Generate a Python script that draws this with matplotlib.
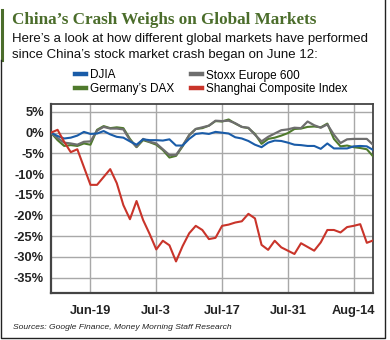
import numpy as np
import pandas as pd
import matplotlib
matplotlib.use("Agg")
import matplotlib.pyplot as plt
from matplotlib.lines import Line2D

# trading days (weekdays) from Jun 11 to Aug 19, 2015, % change since start
dates = pd.bdate_range("2015-06-11", "2015-08-19")
tick_dates = ["2015-06-19", "2015-07-03", "2015-07-17", "2015-07-31", "2015-08-14"]
tick_labels = ["Jun-19", "Jul-3", "Jul-17", "Jul-31", "Aug-14"]
y_ticks = [5, 0, -5, -10, -15, -20, -25, -30, -35]

djia = [0, -0.8, -1.4, -1.2, -0.7, 0.2, -0.3, -0.2, 0.4, -0.4,
        -1.0, -1.2, -2.1, -2.9, -1.6, -1.8, -1.8, -1.9, -1.6, -3.1,
        -3.1, -1.5, -0.3, -0.1, -0.3, 0.2, 0.0, -0.2, -1.1, -1.4,
        -2.0, -2.9, -3.5, -2.4, -1.9, -2.0, -2.4, -2.9, -3.0, -3.2,
        -3.2, -3.9, -2.6, -3.8, -3.8, -3.8, -3.3, -3.2, -3.3, -4.2]
stoxx = [0, -1.3, -2.4, -2.6, -2.9, -2.2, -2.1, 0.5, 1.4, 1.0,
         1.0, 0.8, -1.8, -3.4, -1.5, -2.2, -2.6, -4.0, -5.4, -5.4,
         -3.1, -0.6, 0.9, 1.3, 1.7, 2.9, 2.8, 2.9, 2.3, 1.4,
         1.2, -0.5, -2.1, -1.0, -0.2, 0.6, 0.8, 1.2, 1.1, 2.7,
         1.8, 1.2, 2.0, -0.5, -2.5, -1.6, -1.5, -1.5, -1.5, -3.0]
dax = [0, -1.8, -3.2, -3.0, -3.2, -2.6, -2.9, 0.7, 1.6, 1.1,
       1.3, 1.1, -1.5, -3.5, -1.8, -2.3, -2.9, -4.2, -6.0, -5.6,
       -3.3, -0.6, 0.9, 1.1, 1.7, 2.8, 2.7, 3.2, 2.2, 1.4,
       1.1, -0.3, -2.7, -1.5, -1.2, -0.7, -0.1, 0.9, 1.0, 1.4,
       1.5, 1.3, 2.2, -1.5, -3.3, -3.1, -3.5, -3.7, -4.0, -5.8]
shanghai = [0, 0.7, -2.2, -4.7, -4.0, -8.3, -12.6, -12.6, -10.7, -8.8,
            -12.2, -17.5, -20.9, -16.5, -21.1, -24.5, -28.2, -26.1, -27.2, -31.1,
            -27.4, -24.3, -22.5, -23.5, -25.7, -25.4, -22.5, -22.2, -21.7, -21.4,
            -19.6, -20.7, -27.1, -28.3, -26.1, -27.7, -28.5, -29.3, -26.7, -27.6,
            -28.5, -26.5, -23.5, -23.5, -24.1, -22.8, -22.5, -22.1, -26.6, -26.0]

W, H = 390, 340
def fx(x):
    return x / W
def fy(y):
    return 1 - y / H

fig = plt.figure(figsize=(W / 100, H / 100), dpi=100)
ax = fig.add_axes([fx(51), fy(292.7), (373.4 - 51) / W, (292.7 - 104.3) / H])

x = np.arange(len(dates))
l_dax, = ax.plot(x, dax, color="#4f7a2c", lw=1.5, zorder=3)
l_stoxx, = ax.plot(x, stoxx, color="#6e6e6e", lw=1.6, zorder=4)
l_djia, = ax.plot(x, djia, color="#1a5ca8", lw=1.5, zorder=5)
l_sh, = ax.plot(x, shanghai, color="#c9342a", lw=1.5, zorder=6)

ax.set_xlim(0, len(dates) - 1)
ax.set_ylim(-38.65, 6.86)
ax.set_xticks([dates.get_loc(pd.Timestamp(d)) for d in tick_dates])
ax.set_xticklabels(tick_labels)
ax.set_yticks(y_ticks)
ax.set_yticklabels([f"{v}%" for v in y_ticks])
ax.tick_params(length=0, labelsize=9.3, colors="#222222")
ax.tick_params(axis="x", pad=9)
ax.tick_params(axis="y", pad=5)
for lab in ax.get_xticklabels() + ax.get_yticklabels():
    lab.set_fontfamily("Liberation Sans")
    lab.set_fontweight("bold")
ax.grid(True, color="#a8a8a8", lw=1.0)
ax.set_axisbelow(True)
for s in ax.spines.values():
    s.set_color("#444444")
    s.set_linewidth(1.3)
ax.spines["left"].set_linewidth(1.6)
ax.spines["bottom"].set_linewidth(1.6)

leg = ax.legend([l_djia, l_dax, l_stoxx, l_sh],
                ["DJIA", "Germany\u2019s DAX", "Stoxx Europe 600", "Shanghai Composite Index"],
                ncol=2, loc="upper left", bbox_to_anchor=(fx(75), fy(69.5)),
                bbox_transform=fig.transFigure, frameon=False, borderpad=0,
                borderaxespad=0, handlelength=0.95, handletextpad=0.35,
                columnspacing=1.35, labelspacing=0.1,
                prop={"family": "Liberation Sans", "size": 8.5})
for ln in leg.get_lines():
    ln.set_linewidth(3.2)

green = "#4b6d2b"
fig.text(fx(12), fy(24.5), "China\u2019s Crash Weighs on Global Markets",
         fontfamily="Liberation Serif", fontweight="bold", fontsize=12.3,
         color=green, va="baseline")
fig.text(fx(12), fy(41.7), "Here\u2019s a look at how different global markets have performed",
         fontfamily="Liberation Sans", fontsize=9.5, color="#111111", va="baseline")
fig.text(fx(12), fy(58.3), "since China\u2019s stock market crash began on June 12:",
         fontfamily="Liberation Sans", fontsize=9.5, color="#111111", va="baseline")
fig.text(fx(13), fy(327.7), "Sources: Google Finance, Money Morning Staff Research",
         fontfamily="Liberation Sans", style="italic", fontsize=6.1,
         color="#222222", va="center")

# outer frame
fig.add_artist(Line2D([fx(1.5), fx(1.5)], [fy(10), fy(60)], color=green, lw=2.2,
                      transform=fig.transFigure))
fig.add_artist(Line2D([fx(1), fx(1), fx(384.5), fx(384.5)], [fy(60), fy(337.5), fy(337.5), fy(0)],
                      color="#222222", lw=1.0, transform=fig.transFigure))

fig.savefig("out.png", dpi=100)
